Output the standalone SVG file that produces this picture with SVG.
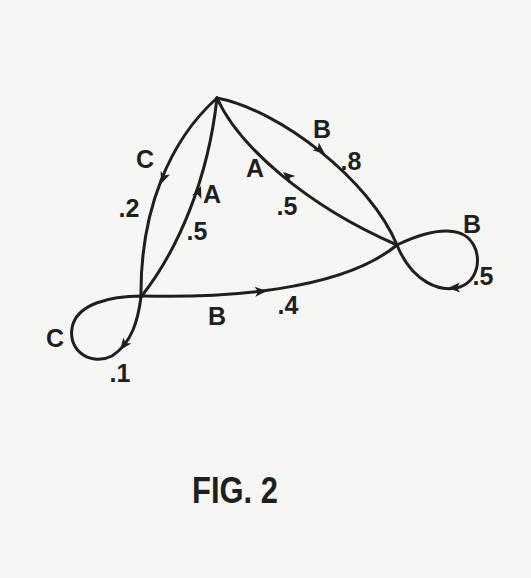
<svg xmlns="http://www.w3.org/2000/svg" width="531" height="578" viewBox="0 0 531 578">
<style>
.e{fill:none;stroke:#1f1f1f;stroke-width:3;stroke-linecap:round;stroke-linejoin:round}
.ah{fill:#1f1f1f}
.t{font-family:"Liberation Sans","DejaVu Sans",sans-serif;font-size:25px;font-weight:bold;fill:#1f1f1f;text-anchor:middle}
.f{font-family:"Liberation Sans","DejaVu Sans",sans-serif;font-size:36px;font-weight:bold;fill:#1f1f1f;text-anchor:middle}
</style>
<defs>
<path id="ah" d="M0,0 L-12,-5 L-9,0 L-12,5 Z"/>
</defs>
<rect x="0" y="0" width="531" height="578" fill="#f6f6f4"/>
<g id="connectors">
<path class="e" d="M217,98 C170,140 140,210 141,297"/>
<path class="e" d="M141,297 C178,250 208,180 217,98"/>
<path class="e" d="M217,98 C280,110 370,180 397,245"/>
<path class="e" d="M397,245 C305,205 238,145 217,98"/>
<path class="e" d="M142,296 C220,298 340,292 397,245"/>
<path class="e" d="M397,245 C420,234 445,227 462,234 C482,243 484,278 460,287 C440,293 412,282 397,245"/>
<path class="e" d="M141,297 C138,320 132,343 112,356 C92,366 68,352 72,328 C76,304 110,296 142,296"/>
<use href="#ah" class="ah" transform="translate(161,184) rotate(111)"/>
<use href="#ah" class="ah" transform="translate(201,186) rotate(-69)"/>
<use href="#ah" class="ah" transform="translate(325,154) rotate(39)"/>
<use href="#ah" class="ah" transform="translate(283,172) rotate(-140)"/>
<use href="#ah" class="ah" transform="translate(267,291) rotate(-4)"/>
<use href="#ah" class="ah" transform="translate(448,288) rotate(178)"/>
<use href="#ah" class="ah" transform="translate(120,350) rotate(128)"/>
</g>
<g id="node-top"><circle cx="217" cy="98" r="1.5" fill="#1f1f1f"/></g>
<g id="node-left"><circle cx="141" cy="297" r="1.5" fill="#1f1f1f"/></g>
<g id="node-right"><circle cx="397" cy="245" r="1.5" fill="#1f1f1f"/></g>
<g id="labels">
<text class="t" x="145" y="168">C</text>
<text class="t" x="129" y="217">.2</text>
<text class="t" x="212" y="203">A</text>
<text class="t" x="197" y="240">.5</text>
<text class="t" x="255" y="177">A</text>
<text class="t" x="287" y="215">.5</text>
<text class="t" x="322" y="138">B</text>
<text class="t" x="351" y="170">.8</text>
<text class="t" x="472" y="233">B</text>
<text class="t" x="483" y="285">.5</text>
<text class="t" x="55" y="347">C</text>
<text class="t" x="120" y="382">.1</text>
<text class="t" x="217" y="325">B</text>
<text class="t" x="288" y="314">.4</text>
<text class="f" x="235" y="503" textLength="86" lengthAdjust="spacingAndGlyphs">FIG. 2</text>
</g>
</svg>
